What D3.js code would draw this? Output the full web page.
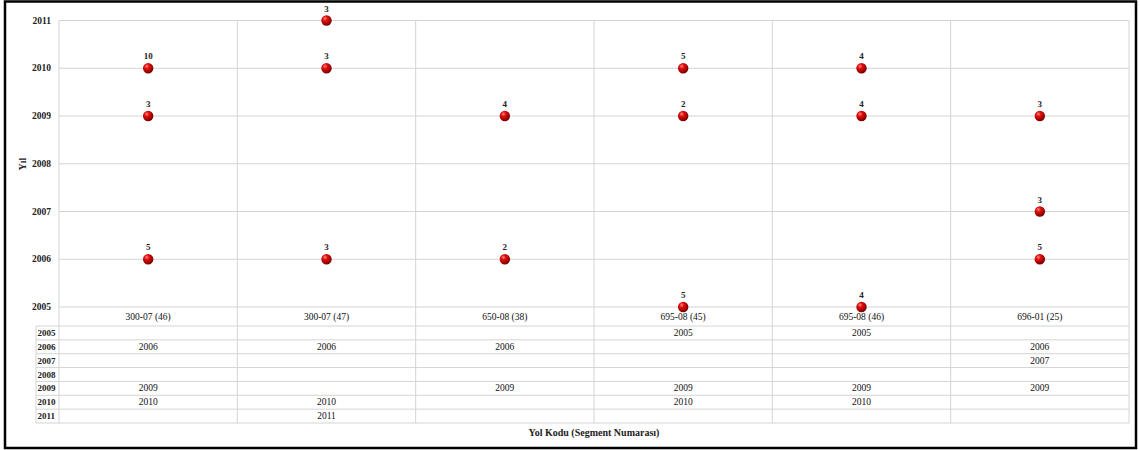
<!DOCTYPE html>
<html>
<head>
<meta charset="utf-8">
<script src="https://cdn.jsdelivr.net/npm/d3@7"></script>
<style>
  html, body { margin: 0; padding: 0; background: #fff; }
  svg { display: block; }
  text { font-family: "Liberation Serif", "DejaVu Serif", serif; fill: #222; }
</style>
</head>
<body>
<svg id="chart" width="1140" height="450"></svg>
<script>
// Road segments (x categories)
const categories = ["300-07 (46)", "300-07 (47)", "650-08 (38)", "695-08 (45)", "695-08 (46)", "696-01 (25)"];
// Year ticks for the y axis and rows of the data table
const years = [2005, 2006, 2007, 2008, 2009, 2010, 2011];
// Observations: year of each point per segment, and the count shown above it
const pointCategory = ["300-07 (46)", "300-07 (46)", "300-07 (46)",
                       "300-07 (47)", "300-07 (47)", "300-07 (47)",
                       "650-08 (38)", "650-08 (38)",
                       "695-08 (45)", "695-08 (45)", "695-08 (45)",
                       "695-08 (46)", "695-08 (46)", "695-08 (46)",
                       "696-01 (25)", "696-01 (25)", "696-01 (25)"];
const pointYear = [2010, 2009, 2006,
                   2011, 2010, 2006,
                   2009, 2006,
                   2010, 2009, 2005,
                   2010, 2009, 2005,
                   2009, 2007, 2006];
const pointCount = [10, 3, 5,
                    3, 3, 3,
                    4, 2,
                    5, 2, 5,
                    4, 4, 4,
                    3, 3, 5];

const points = pointYear.map((y, i) => ({ cat: pointCategory[i], year: y, count: pointCount[i] }));

const svg = d3.select("#chart");

const plotLeft = 59, plotRight = 1129, plotTop = 20.5, plotBottom = 307;
const tableLeft = 36, tableTop = 326, tableBottom = 423;
const gridColor = "#d4d4d4";

const x = d3.scaleBand().domain(categories).range([plotLeft, plotRight]);
const y = d3.scaleLinear().domain([2005, 2011]).range([plotBottom, plotTop]);
const row = d3.scaleBand().domain(years).range([tableTop, tableBottom]);

// Sphere-like marker gradient
const defs = svg.append("defs");
const grad = defs.append("radialGradient").attr("id", "ball")
  .attr("cx", "40%").attr("cy", "35%").attr("r", "65%").attr("fx", "35%").attr("fy", "30%");
grad.append("stop").attr("offset", "0%").attr("stop-color", "#ff8a80");
grad.append("stop").attr("offset", "35%").attr("stop-color", "#e01010");
grad.append("stop").attr("offset", "80%").attr("stop-color", "#a00000");
grad.append("stop").attr("offset", "100%").attr("stop-color", "#6a0000");

// Horizontal gridlines for each year
svg.append("g").selectAll("line").data(years).join("line")
  .attr("x1", plotLeft).attr("x2", plotRight)
  .attr("y1", d => y(d)).attr("y2", d => y(d))
  .attr("stroke", gridColor).attr("stroke-width", 1);

// Column separators, running through the plot and the data table
const colEdges = categories.map(c => x(c)).concat([plotRight]);
svg.append("g").selectAll("line").data(colEdges).join("line")
  .attr("x1", d => d).attr("x2", d => d)
  .attr("y1", plotTop).attr("y2", tableBottom)
  .attr("stroke", gridColor).attr("stroke-width", 1);

// Data table row lines and left edge
const rowEdges = years.map(yr => row(yr)).concat([tableBottom]);
svg.append("g").selectAll("line").data(rowEdges).join("line")
  .attr("x1", tableLeft).attr("x2", plotRight)
  .attr("y1", d => d).attr("y2", d => d)
  .attr("stroke", gridColor).attr("stroke-width", 1);
svg.append("line")
  .attr("x1", tableLeft).attr("x2", tableLeft)
  .attr("y1", tableTop).attr("y2", tableBottom)
  .attr("stroke", gridColor);

// Y axis tick labels
svg.append("g").selectAll("text").data(years).join("text")
  .attr("x", 51).attr("y", d => y(d))
  .attr("text-anchor", "end").attr("dominant-baseline", "central")
  .attr("font-size", 9.5).attr("font-weight", "bold")
  .text(d => d);

// Y axis title
svg.append("text")
  .attr("transform", "translate(22,164) rotate(-90)")
  .attr("text-anchor", "middle").attr("dominant-baseline", "central")
  .attr("font-size", 10).attr("font-weight", "bold")
  .text("Yıl");

// Category labels (table header row)
svg.append("g").selectAll("text").data(categories).join("text")
  .attr("x", d => x(d) + x.bandwidth() / 2)
  .attr("y", (plotBottom + tableTop) / 2 + 0.5)
  .attr("text-anchor", "middle").attr("dominant-baseline", "central")
  .attr("font-size", 9.5).style("fill", "#111")
  .text(d => d);

// Row headers of the data table
svg.append("g").selectAll("text").data(years).join("text")
  .attr("x", tableLeft + 1.5).attr("y", d => row(d) + row.bandwidth() / 2)
  .attr("dominant-baseline", "central")
  .attr("font-size", 9).attr("font-weight", "bold")
  .text(d => d);

// Data table values: the year of each point in its segment column
svg.append("g").selectAll("text").data(points).join("text")
  .attr("x", d => x(d.cat) + x.bandwidth() / 2)
  .attr("y", d => row(d.year) + row.bandwidth() / 2)
  .attr("text-anchor", "middle").attr("dominant-baseline", "central")
  .attr("font-size", 9.5).style("fill", "#111")
  .text(d => d.year);

// Markers
svg.append("g").selectAll("circle").data(points).join("circle")
  .attr("cx", d => x(d.cat) + x.bandwidth() / 2)
  .attr("cy", d => y(d.year))
  .attr("r", 5.2)
  .attr("fill", "url(#ball)");

// Count labels above markers
svg.append("g").selectAll("text").data(points).join("text")
  .attr("x", d => x(d.cat) + x.bandwidth() / 2)
  .attr("y", d => y(d.year) - 12)
  .attr("text-anchor", "middle").attr("dominant-baseline", "central")
  .attr("font-size", 9).attr("font-weight", "bold")
  .text(d => d.count);

// X axis title
svg.append("text")
  .attr("x", (plotLeft + plotRight) / 2).attr("y", 432)
  .attr("text-anchor", "middle").attr("dominant-baseline", "central")
  .attr("font-size", 10).attr("font-weight", "bold")
  .text("Yol Kodu (Segment Numarası)");

// Outer frame
svg.append("rect")
  .attr("x", 5).attr("y", 1.5).attr("width", 1131).attr("height", 446.5)
  .attr("fill", "none").attr("stroke", "#000").attr("stroke-width", 2.5);
</script>
</body>
</html>
